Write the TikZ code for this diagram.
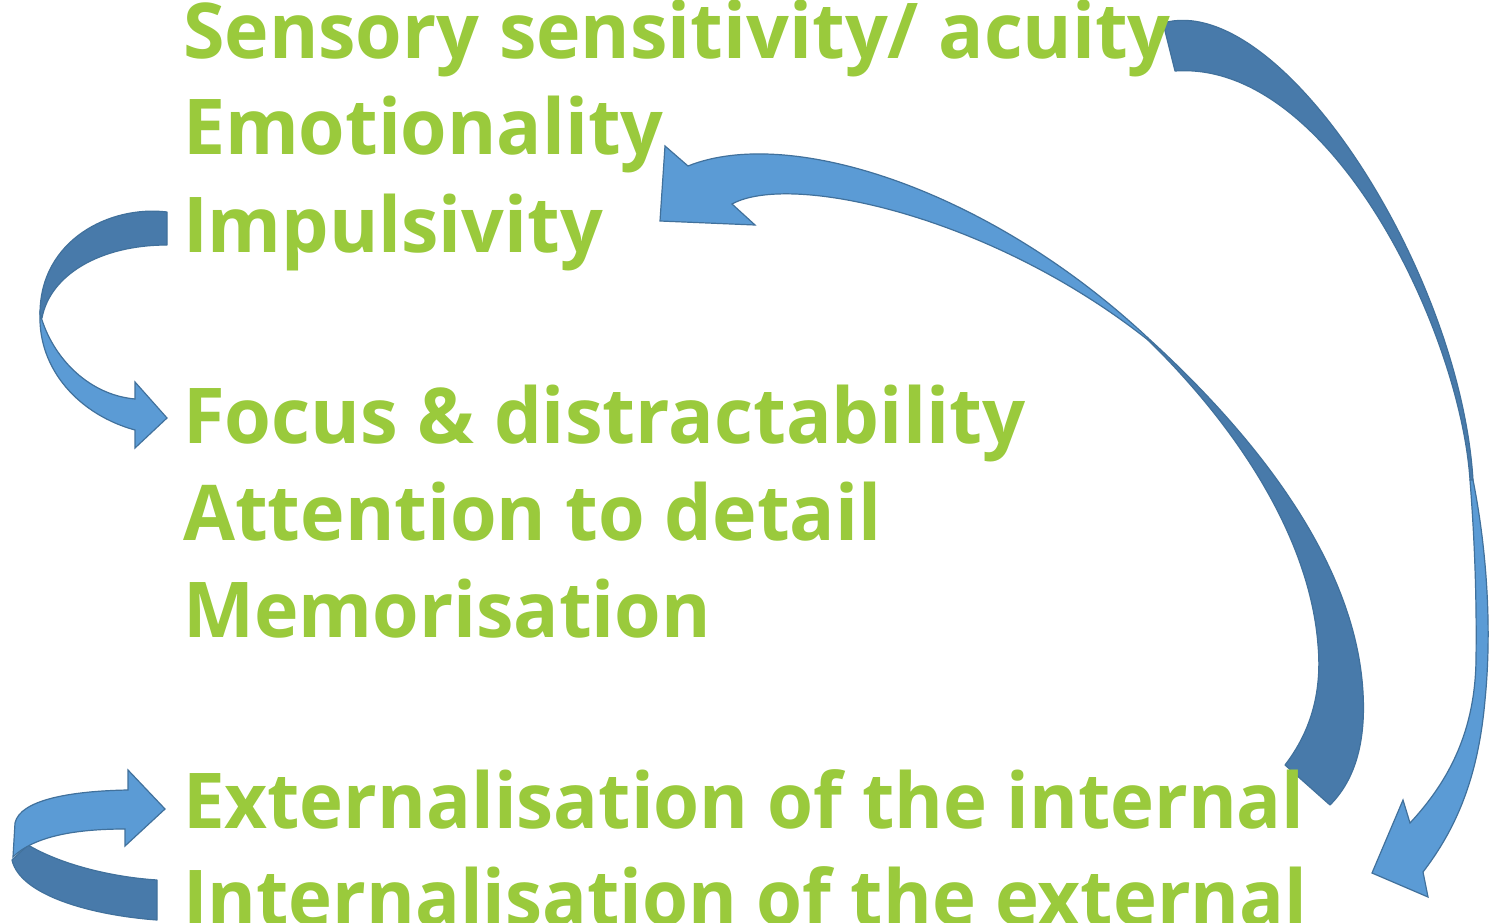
\documentclass[tikz,border=0pt]{standalone}
\usepackage{fontspec}
\setmainfont{Open Sans}
\definecolor{txtgreen}{RGB}{154,202,60}
\definecolor{arrdark}{RGB}{72,122,170}
\definecolor{arrlight}{RGB}{91,155,213}
\definecolor{arredge}{RGB}{65,113,156}
\newcommand\gtxt[2]{\scalebox{#1}[1]{#2}}
\tikzset{
  lbl/.style={anchor=base west, inner sep=0pt, outer sep=0pt, text=txtgreen,
    font=\fontsize{77}{96}\selectfont\bfseries},
  backband/.style={fill=arrdark, draw=arredge, line width=1.2pt, line join=round},
  frontband/.style={fill=arrlight, draw=arredge, line width=1.2pt, line join=miter},
}
\begin{document}
\begin{tikzpicture}[x=1pt,y=-1pt]
\useasboundingbox (0,0) rectangle (1489,923);
\clip (0,0) rectangle (1489,923);
\fill[white] (0,0) rectangle (1489,923);

% ---- arrow 1: Impulsivity -> Focus
\path[backband] (167,212) .. controls (110,205) and (40,240) .. (40,314)
  -- (42,318) .. controls (50,275) and (100,245) .. (167,245) -- cycle;
\path[frontband] (40,314) .. controls (38,370) and (80,415) .. (135,430)
  -- (135,448) -- (167,418) -- (135,382) -- (135,399)
  .. controls (90,395) and (55,360) .. (42,320) -- cycle;

% ---- arrow 2: Internalisation -> Externalisation
\path[backband] (28,845) .. controls (60,864) and (110,877) .. (157,880)
  -- (157,920) .. controls (90,915) and (20,895) .. (12,860) -- cycle;
\path[frontband] (13,857) -- (15,823)
  .. controls (20,800) and (70,791) .. (128,790)
  -- (128,770) -- (165,809) -- (125,846) -- (125,829)
  .. controls (80,829) and (35,835) .. (13,857) -- cycle;

% ---- arrow 3: Externalisation -> Emotionality
\path[backband] (1148,338) .. controls (1260,440) and (1350,560) .. (1362,680)
  .. controls (1368,740) and (1355,780) .. (1330,805)
  -- (1285,765) .. controls (1312,730) and (1322,690) .. (1318,645)
  .. controls (1310,540) and (1240,430) .. (1148,340) -- cycle;
\path[frontband] (688,166) -- (665,146) -- (660,221) -- (755,225) -- (732,204)
  .. controls (790,172) and (990,215) .. (1148,340)
  -- (1148,338) .. controls (990,190) and (790,125) .. (688,166) -- cycle;

% ---- arrow 4: Sensory -> Internalisation
\path[backband] (1163,23) .. controls (1280,-10) and (1460,270) .. (1473,480)
  -- (1470,480) .. controls (1460,330) and (1330,60) .. (1175,71) -- cycle;
\path[frontband] (1473,480) .. controls (1487,550) and (1492,630) .. (1485,700)
  .. controls (1478,780) and (1455,830) .. (1423,872)
  -- (1428,897) -- (1372,873) -- (1403,800) -- (1410,823)
  .. controls (1450,780) and (1475,730) .. (1476,660)
  .. controls (1477,580) and (1473,520) .. (1470,480) -- cycle;

% ---- texts
\node[lbl] (sens) at (183,59) {\gtxt{0.978}{Sensory sensitivity/ acuity}};
\node[lbl] (emo) at (183,155) {\gtxt{0.976}{Emotionality}};
\node[lbl] (imp) at (183,252) {\gtxt{0.976}{Impulsivity}};
\node[lbl] (foc) at (183,443) {\gtxt{0.984}{Focus \& distractability}};
\node[lbl] (att) at (183,540) {\gtxt{0.979}{Attention to detail}};
\node[lbl] (mem) at (183,637) {\gtxt{0.978}{Memorisation}};
\node[lbl] (ext) at (183,828) {\gtxt{0.966}{Externalisation of the internal}};
\node[lbl] (int) at (183,925) {\gtxt{0.966}{Internalisation of the external}};
\end{tikzpicture}
\end{document}
